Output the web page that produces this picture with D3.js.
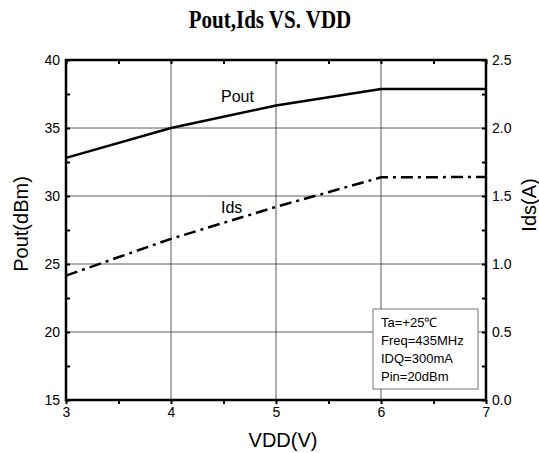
<!DOCTYPE html>
<html><head><meta charset="utf-8">
<script src="https://cdn.jsdelivr.net/npm/d3@7"></script>
<style>body{margin:0;background:#fff}</style>
</head><body>
<svg id="c" width="539" height="453"></svg>
<script>
const vdd = [3, 4, 5, 6, 7];
const pout = [32.8, 35.0, 36.65, 37.87, 37.87];
const ids = [0.915, 1.185, 1.42, 1.637, 1.64];
const xTicks = [3, 4, 5, 6, 7];
const yLeftTicks = [15, 20, 25, 30, 35, 40];
const yRightTicks = [0.0, 0.5, 1.0, 1.5, 2.0, 2.5];
const noteLines = ["Ta=+25\u2103", "Freq=435MHz", "IDQ=300mA", "Pin=20dBm"];

const svg = d3.select("#c");
const L = 66, R = 486, T = 60, B = 400;
const x = d3.scaleLinear().domain([3, 7]).range([L, R]);
const yL = d3.scaleLinear().domain([15, 40]).range([B, T]);
const yR = d3.scaleLinear().domain([0, 2.5]).range([B, T]);
const font = "Liberation Sans, Arial, sans-serif";

// title
svg.append("text").attr("transform", "translate(270,28) scale(1,1.15)").attr("text-anchor", "middle")
  .attr("font-family", "Liberation Serif, Times New Roman, serif").attr("font-weight", "bold")
  .attr("font-size", 21).text("Pout,Ids VS. VDD");

// gridlines
const g = svg.append("g");
g.selectAll(".gx").data(xTicks.slice(1, -1)).join("line")
  .attr("x1", d => x(d)).attr("x2", d => x(d)).attr("y1", T).attr("y2", B)
  .attr("stroke", "#333").attr("stroke-width", 0.8);
g.selectAll(".gy").data(yLeftTicks.slice(1, -1)).join("line")
  .attr("y1", d => yL(d)).attr("y2", d => yL(d)).attr("x1", L).attr("x2", R)
  .attr("stroke", "#333").attr("stroke-width", 0.8);

// note box
const nb = svg.append("g");
nb.append("rect").attr("x", 373).attr("y", 309).attr("width", 105).attr("height", 80)
  .attr("fill", "#fff").attr("stroke", "#555").attr("stroke-width", 0.8);
nb.selectAll("text").data(noteLines).join("text")
  .attr("x", 381).attr("y", (d, i) => 327 + i * 18)
  .attr("font-family", font).attr("font-size", 13).text(d => d);

// lines
svg.append("path").datum(vdd.map((v, i) => [v, pout[i]]))
  .attr("d", d3.line().x(d => x(d[0])).y(d => yL(d[1])))
  .attr("fill", "none").attr("stroke", "#000").attr("stroke-width", 2.5);
svg.append("path").datum(vdd.map((v, i) => [v, ids[i]]))
  .attr("d", d3.line().x(d => x(d[0])).y(d => yR(d[1])))
  .attr("fill", "none").attr("stroke", "#000").attr("stroke-width", 2.5)
  .attr("stroke-dasharray", "12,5,3,5");

// series labels
svg.append("text").attr("x", 221).attr("y", 102).attr("font-family", font).attr("font-size", 16).text("Pout");
svg.append("text").attr("x", 221).attr("y", 213).attr("font-family", font).attr("font-size", 16).text("Ids");

// axes
const axB = svg.append("g").attr("transform", `translate(0,${B})`)
  .call(d3.axisBottom(x).tickValues(xTicks).tickSize(4).tickPadding(3).tickFormat(d3.format("d")));
const axT = svg.append("g").attr("transform", `translate(0,${T})`)
  .call(d3.axisBottom(x).tickValues(d3.range(3, 7.01, 0.5)).tickSize(4).tickFormat(""));
const axBm = svg.append("g").attr("transform", `translate(0,${B})`)
  .call(d3.axisBottom(x).tickValues(d3.range(3.5, 7, 1)).tickSize(4).tickFormat(""));
const axLm = svg.append("g").attr("transform", `translate(${L},0)`)
  .call(d3.axisRight(yL).tickValues(d3.range(15, 40.1, 2.5)).tickSize(4).tickFormat(""));
const axL = svg.append("g").attr("transform", `translate(${L},0)`)
  .call(d3.axisLeft(yL).tickValues(yLeftTicks).tickSize(0).tickPadding(6).tickFormat(d3.format("d")));
const axRm = svg.append("g").attr("transform", `translate(${R},0)`)
  .call(d3.axisLeft(yR).tickValues(d3.range(0, 2.51, 0.25)).tickSize(4).tickFormat(""));
const axR = svg.append("g").attr("transform", `translate(${R},0)`)
  .call(d3.axisRight(yR).tickValues(yRightTicks).tickSize(0).tickPadding(6).tickFormat(d3.format(".1f")));
[axB, axT, axBm, axLm, axL, axRm, axR].forEach(a => {
  a.select(".domain").remove();
  a.selectAll("line").attr("stroke", "#000").attr("stroke-width", 2);
  a.selectAll("text").attr("font-family", font).attr("font-size", 14).attr("fill", "#000");
});
// frame
svg.append("rect").attr("x", L).attr("y", T).attr("width", R - L).attr("height", B - T)
  .attr("fill", "none").attr("stroke", "#000").attr("stroke-width", 2.5);

// axis titles
svg.append("text").attr("x", 283).attr("y", 447).attr("text-anchor", "middle")
  .attr("font-family", font).attr("font-size", 20).text("VDD(V)");
svg.append("text").attr("transform", "translate(28,224) rotate(-90)").attr("text-anchor", "middle")
  .attr("font-family", font).attr("font-size", 20).text("Pout(dBm)");
svg.append("text").attr("transform", "translate(536,205) rotate(-90)").attr("text-anchor", "middle")
  .attr("font-family", font).attr("font-size", 20).text("Ids(A)");
</script>
</body></html>
